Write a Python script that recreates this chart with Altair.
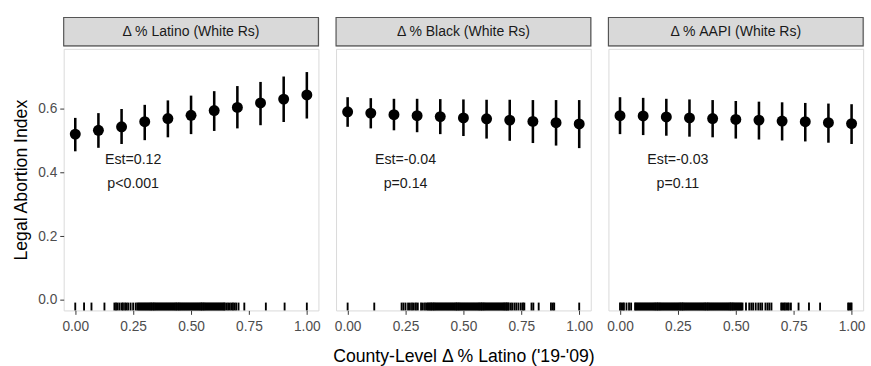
import altair as alt
import pandas as pd

# ---------------- data ----------------
x_vals = [0.0, 0.1, 0.2, 0.3, 0.4, 0.5, 0.6, 0.7, 0.8, 0.9, 1.0]
panel_titles = ["Δ % Latino (White Rs)", "Δ % Black (White Rs)", "Δ % AAPI (White Rs)"]

est_latino = [0.521, 0.533, 0.544, 0.560, 0.570, 0.580, 0.595, 0.605, 0.619, 0.631, 0.644]
lo_latino = [0.467, 0.478, 0.490, 0.502, 0.511, 0.521, 0.531, 0.539, 0.549, 0.559, 0.570]
hi_latino = [0.572, 0.587, 0.600, 0.613, 0.627, 0.642, 0.656, 0.672, 0.685, 0.702, 0.716]

est_black = [0.591, 0.587, 0.582, 0.579, 0.576, 0.572, 0.569, 0.565, 0.561, 0.557, 0.553]
lo_black = [0.544, 0.539, 0.533, 0.527, 0.521, 0.515, 0.507, 0.500, 0.493, 0.485, 0.477]
hi_black = [0.637, 0.634, 0.632, 0.632, 0.631, 0.630, 0.629, 0.629, 0.628, 0.628, 0.628]

est_aapi = [0.579, 0.578, 0.575, 0.572, 0.570, 0.567, 0.565, 0.562, 0.560, 0.557, 0.554]
lo_aapi = [0.521, 0.518, 0.516, 0.513, 0.511, 0.507, 0.504, 0.501, 0.498, 0.494, 0.490]
hi_aapi = [0.637, 0.635, 0.632, 0.630, 0.628, 0.625, 0.623, 0.621, 0.619, 0.617, 0.615]

rug_latino = [
    0.0, 0.038, 0.07, 0.126, 0.169, 0.176, 0.183, 0.191, 0.2, 0.206, 0.215, 0.222, 0.229, 0.239, 0.25, 0.261,
    0.268, 0.273, 0.277, 0.282, 0.286, 0.291, 0.295, 0.300, 0.304, 0.309, 0.313, 0.318, 0.322, 0.327, 0.331,
    0.336, 0.340, 0.345, 0.349, 0.354, 0.358, 0.363, 0.367, 0.372, 0.376, 0.381, 0.385, 0.390, 0.394, 0.399,
    0.403, 0.408, 0.412, 0.417, 0.421, 0.426, 0.430, 0.435, 0.439, 0.444, 0.448, 0.453, 0.457, 0.462, 0.466,
    0.471, 0.475, 0.480, 0.484, 0.489, 0.493, 0.498, 0.502, 0.507, 0.511, 0.516, 0.520, 0.525, 0.529, 0.534,
    0.538, 0.543, 0.547, 0.552, 0.556, 0.561, 0.565, 0.570, 0.574, 0.579, 0.583, 0.588, 0.592, 0.597, 0.601,
    0.606, 0.610, 0.615, 0.619, 0.624, 0.628, 0.633, 0.637, 0.642, 0.646,
    0.653, 0.66, 0.667, 0.674, 0.681, 0.688, 0.695, 0.705, 0.73, 0.823, 0.904, 1.0,
]
rug_black = [
    0.0, 0.115, 0.233, 0.241, 0.25, 0.261, 0.269, 0.278, 0.286, 0.295, 0.303, 0.317, 0.325, 0.334,
    0.342, 0.346, 0.351, 0.355, 0.360, 0.364, 0.369, 0.373, 0.378, 0.382, 0.387, 0.391, 0.396, 0.400, 0.405,
    0.409, 0.414, 0.418, 0.423, 0.427, 0.432, 0.436, 0.441, 0.445, 0.450, 0.454, 0.459, 0.463, 0.468, 0.472,
    0.477, 0.481, 0.486, 0.490, 0.495, 0.499, 0.504, 0.508, 0.513, 0.517, 0.522, 0.526, 0.531, 0.535, 0.540,
    0.544, 0.549, 0.553, 0.558, 0.562, 0.567, 0.571, 0.576, 0.580, 0.585, 0.589, 0.594, 0.598, 0.603, 0.607,
    0.612, 0.616, 0.621, 0.625, 0.630, 0.634, 0.639, 0.643, 0.648, 0.652, 0.657, 0.661, 0.666, 0.670, 0.675,
    0.679, 0.684, 0.688, 0.693, 0.696,
    0.705, 0.712, 0.721, 0.729, 0.738, 0.748, 0.757, 0.763, 0.794, 0.802, 0.825, 0.878, 0.886, 0.892, 1.0,
]
rug_aapi = [
    0.0, 0.006, 0.011, 0.017, 0.028, 0.039, 0.048, 0.065,
    0.070, 0.074, 0.079, 0.083, 0.088, 0.092, 0.097, 0.101, 0.106, 0.110, 0.115, 0.119, 0.124, 0.128, 0.133,
    0.137, 0.142, 0.146, 0.151, 0.155, 0.160, 0.164, 0.169, 0.173, 0.178, 0.182, 0.187, 0.191, 0.196, 0.200,
    0.205, 0.209, 0.214, 0.218, 0.223, 0.227, 0.232, 0.236, 0.241, 0.245, 0.250, 0.254, 0.259, 0.263, 0.268,
    0.272, 0.277, 0.281, 0.286, 0.290, 0.295, 0.299, 0.304, 0.308, 0.313, 0.317, 0.322, 0.326, 0.331, 0.335,
    0.340, 0.344, 0.349, 0.353, 0.358, 0.362, 0.367, 0.371, 0.376, 0.380, 0.385, 0.389, 0.394, 0.398, 0.403,
    0.407, 0.412, 0.416, 0.421, 0.425, 0.430, 0.434, 0.439, 0.443, 0.448, 0.452, 0.457, 0.461, 0.466, 0.470,
    0.475, 0.479, 0.484, 0.488, 0.493, 0.497, 0.502, 0.506, 0.511, 0.515, 0.520, 0.524, 0.529,
    0.544, 0.558, 0.567, 0.575, 0.586, 0.597, 0.606, 0.614, 0.628, 0.637, 0.645, 0.654, 0.696, 0.701, 0.707,
    0.712, 0.718, 0.724, 0.729, 0.738, 0.771, 0.816, 0.864, 0.985, 0.99, 0.996, 1.0,
]

ann_est = ["Est=0.12", "Est=-0.04", "Est=-0.03"]
ann_p = ["p<0.001", "p=0.14", "p=0.11"]
ann_x = 0.25
ann_y_est = 0.438
ann_y_p = 0.364

x_ticks = [0.0, 0.25, 0.5, 0.75, 1.0]
y_ticks = [0.0, 0.2, 0.4, 0.6]

# ---------------- layout / style ----------------
FONT = "Liberation Sans"
W, H, SH = 260, 267, 29
xscale = alt.Scale(domain=[-0.05, 1.05], nice=False, zero=False)
yscale = alt.Scale(domain=[-0.033, 0.789], nice=False, zero=False)

series = [
    (est_latino, lo_latino, hi_latino, rug_latino),
    (est_black, lo_black, hi_black, rug_black),
    (est_aapi, lo_aapi, hi_aapi, rug_aapi),
]


def make_panel(i):
    est, lo, hi, rug = series[i]
    df = pd.DataFrame({"x": x_vals, "est": est, "lo": lo, "hi": hi})
    xaxis = alt.Axis(values=x_ticks, format=".2f", title="County-Level Δ % Latino ('19-'09)" if i == 1 else None)
    if i == 0:
        yenc_axis = alt.Axis(values=y_ticks, format=".1f", title="Legal Abortion Index")
    else:
        yenc_axis = None

    base = alt.Chart(df)
    bars = base.mark_rule(color="black", strokeWidth=2.6).encode(
        x=alt.X("x:Q", scale=xscale, axis=xaxis),
        y=alt.Y("lo:Q", scale=yscale, axis=yenc_axis),
        y2="hi:Q",
    )
    pts = base.mark_circle(color="black", opacity=1, size=125).encode(
        x=alt.X("x:Q", scale=xscale),
        y=alt.Y("est:Q", scale=yscale),
    )
    rugc = alt.Chart(pd.DataFrame({"r": rug})).mark_rule(color="black", strokeWidth=1.9).encode(
        x=alt.X("r:Q", scale=xscale),
        y=alt.value(H - 8),
        y2=alt.value(H),
    )
    ann_df = pd.DataFrame({
        "x": [ann_x, ann_x],
        "y": [ann_y_est, ann_y_p],
        "label": [ann_est[i], ann_p[i]],
    })
    ann = alt.Chart(ann_df).mark_text(font=FONT, fontSize=14.5, color="#1A1A1A").encode(
        x=alt.X("x:Q", scale=xscale),
        y=alt.Y("y:Q", scale=yscale),
        text="label:N",
    )
    return alt.layer(bars, pts, rugc, ann).properties(width=W, height=H)


def make_strip(i):
    sdf = pd.DataFrame({"label": [panel_titles[i]]})
    rect = alt.Chart(sdf).mark_rect(fill="#D9D9D9", stroke="#555555", strokeWidth=1.2).encode(
        x=alt.value(0), x2=alt.value(W), y=alt.value(0), y2=alt.value(SH)
    )
    txt = alt.Chart(sdf).mark_text(font=FONT, fontSize=14.3, color="#1A1A1A").encode(
        x=alt.value(W / 2), y=alt.value(SH / 2 + 0.5), text="label:N"
    )
    return alt.layer(rect, txt).properties(width=W, height=SH)


cols = [alt.vconcat(make_strip(i), make_panel(i), spacing=0) for i in range(3)]

chart = (
    alt.hconcat(*cols, spacing=10)
    .properties(padding={"left": 13, "top": 12, "right": 5, "bottom": 2}, background="white")
    .configure_view(stroke="#D9D9D9", strokeWidth=1)
    .configure_axis(
        grid=False,
        domain=False,
        labelFont=FONT,
        labelFontSize=14,
        labelColor="#4D4D4D",
        tickColor="#333333",
        tickSize=4,
        labelPadding=3,
        titleFont=FONT,
        titleFontSize=18,
        titleFontWeight="normal",
        titleColor="#000000",
    )
    .configure_axisY(titlePadding=7)
    .configure_axisX(titlePadding=15, labelPadding=5)
)

chart.save("out.html", embed_options={"renderer": "svg", "actions": False})
